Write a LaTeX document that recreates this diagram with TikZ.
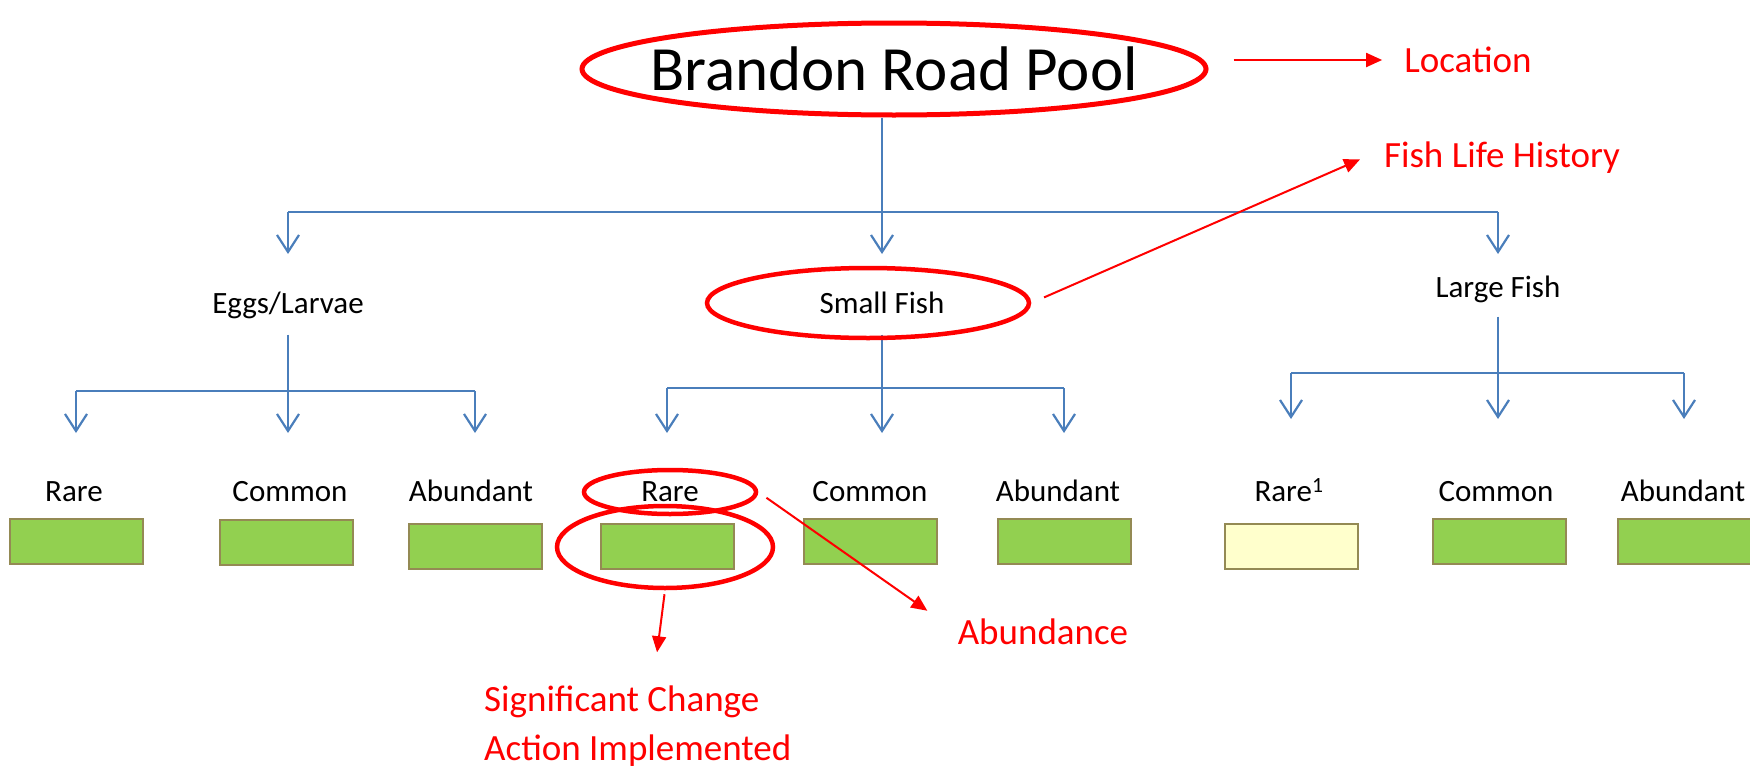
\documentclass[tikz,border=0pt]{standalone}
\usepackage{fontspec}
\setmainfont{Carlito}
\usetikzlibrary{arrows.meta,positioning,shapes.geometric}
\definecolor{linkblue}{HTML}{4A7EBB}
\definecolor{cellgreen}{HTML}{92D050}
\definecolor{cellpale}{HTML}{FFFFCC}
\definecolor{celledge}{HTML}{948A54}
\definecolor{markred}{HTML}{FF0000}
\tikzset{pool/.style={draw=markred,ellipse,line width=5pt,inner xsep=-25pt,inner ysep=0pt,minimum width=624pt,minimum height=92pt,font=\fontsize{63}{63}\selectfont},ring/.style={draw=markred,ellipse,line width=4.5pt,inner sep=0pt},lbl/.style={inner sep=0pt,text height=22pt,text depth=3pt,font=\fontsize{31}{31}\selectfont},tag/.style={inner sep=0pt,text=markred,font=\fontsize{37}{49}\selectfont},cell/.style={draw=celledge,line width=2pt,fill=cellgreen,minimum width=133pt,minimum height=45pt,inner sep=0pt},trunk/.style={draw=linkblue,line width=2.2pt},branch/.style={trunk,-{Straight Barb[length=17pt,width=22pt]}},note/.style={draw=markred,line width=2pt,-{Triangle[length=16pt,width=14pt]}}}

\begin{document}
\begin{tikzpicture}[x=1pt,y=-1pt]
\useasboundingbox (0,0) rectangle (1750,771);
% location and life stages
\node[pool] (pool) at (894,69) {Brandon Road Pool};
\node[lbl] (eggs) at (288,304) {Eggs/Larvae};
\node[lbl] (small) at (882,304) {Small Fish};
\node[lbl] (large) at (1498,288) {Large Fish};
% abundance classes
\node[cell] (b1) at (76,541) {};
\node[cell] (b2) at (286,542) {};
\node[cell] (b3) at (475,546) {};
\node[cell] (b4) at (667,546) {};
\node[cell] (b5) at (870,541) {};
\node[cell] (b6) at (1064,541) {};
\node[cell,fill=cellpale] (b7) at (1291,546) {};
\node[cell] (b8) at (1499,541) {};
\node[cell] (b9) at (1684,541) {};
\node[lbl] (r1) at (74,492) {Rare};
\node[lbl] (r2) at (290,492) {Common};
\node[lbl] (r3) at (471,492) {Abundant};
\node[lbl] (r4) at (670,492) {Rare};
\node[lbl] (r5) at (870,492) {Common};
\node[lbl] (r6) at (1058,492) {Abundant};
\node[lbl] (r7) at (1289,492) {Rare\textsuperscript{1}};
\node[lbl] (r8) at (1496,492) {Common};
\node[lbl] (r9) at (1683,492) {Abundant};
% tree
\coordinate (hub) at (883,212);
\coordinate (tip) at (0,254);
\draw[trunk] (pool.south -| small)--(hub -| small);
\draw[trunk] (hub -| eggs)--(hub -| large);
\draw[branch] (hub -| eggs)--(tip -| eggs);
\draw[branch] (hub -| small)--(tip -| small);
\draw[branch] (hub -| large)--(tip -| large);
\coordinate (eggsbar) at (0,391);
\coordinate (smallbar) at (0,388);
\coordinate (largebar) at (0,373);
\coordinate (rowtip) at (0,433);
\coordinate (largetip) at (0,419);
\draw[branch,shorten <=18pt] (eggs.south)--(rowtip -| eggs);
\draw[trunk] (eggsbar -| b1)--(eggsbar -| b3);
\draw[branch] (eggsbar -| b1)--(rowtip -| b1);
\draw[branch] (eggsbar -| b3)--(rowtip -| b3);
\draw[branch,shorten <=18pt] (small.south)--(rowtip -| small);
\draw[trunk] (smallbar -| b4)--(smallbar -| b6);
\draw[branch] (smallbar -| b4)--(rowtip -| b4);
\draw[branch] (smallbar -| b6)--(rowtip -| b6);
\draw[branch,shorten <=16pt] (large.south)--(largetip -| large);
\draw[trunk] (largebar -| b7)--(largebar -| b9);
\draw[branch] (largebar -| b7)--(largetip -| b7);
\draw[branch] (largebar -| b9)--(largetip -| b9);
% annotations
\node[ring,minimum width=322pt,minimum height=70pt] (smallring) at (868,303) {};
\node[ring,minimum width=172pt,minimum height=44pt] (rarering) at (670,492) {};
\node[ring,minimum width=216pt,minimum height=82pt] (boxring) at (665,547) {};
\node[tag] (loc) at (1468,60) {Location};
\node[tag] (hist) at (1502,158) {Fish Life History};
\node[tag] (abund) at (1043,632) {Abundance};
\node[tag,align=left,anchor=north west] (sig) at (484,686) {Significant Change\\Action Implemented};
\draw[note,shorten <=25pt,shorten >=22pt] (pool.east |- loc)--(loc.west);
\draw[note,shorten <=14pt,shorten >=26pt] (smallring.east)--([yshift=9pt]hist.west);
\draw[note,shorten <=10pt,shorten >=37pt] (rarering.east)--(abund.west);
\draw[note,shorten <=4pt,shorten >=34pt] (boxring.south)--([xshift=15pt]sig.north);
\end{tikzpicture}
\end{document}
